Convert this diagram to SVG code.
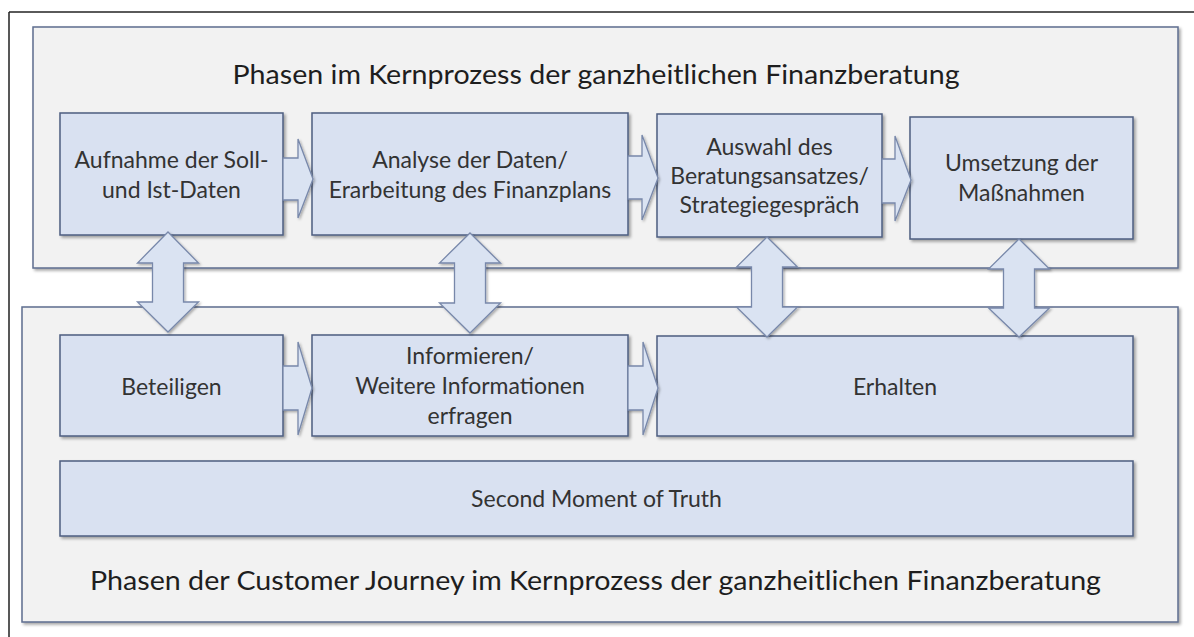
<svg xmlns="http://www.w3.org/2000/svg" width="1194" height="637" viewBox="0 0 1194 637">
  <defs>
    <filter id="shadow" x="-5%" y="-5%" width="112%" height="120%">
      <feDropShadow dx="2" dy="2" stdDeviation="1.5" flood-color="#000" flood-opacity="0.35"/>
    </filter>
    <filter id="soft" x="-10%" y="-10%" width="130%" height="130%">
      <feDropShadow dx="1.5" dy="1.5" stdDeviation="1.2" flood-color="#000" flood-opacity="0.3"/>
    </filter>
  </defs>
  <style>
    .frame { fill: none; }
    .panel { fill: #f2f2f2; stroke: #5d6d8e; stroke-width: 1.5; filter: url(#shadow); }
    .box { fill: #d9e1f1; stroke: #4d5d80; stroke-width: 1.5; filter: url(#shadow); }
    .arrow { fill: #dae3f2; stroke: #7888aa; stroke-width: 1.3; stroke-linejoin: miter; filter: url(#soft); }
    .title { font-family: Lato, "Liberation Sans", sans-serif; font-size: 27.5px; fill: #1e1e1e; text-anchor: middle; }
    .label { font-family: Lato, "Liberation Sans", sans-serif; font-size: 23px; fill: #333333; text-anchor: middle; }
  </style>

  <rect width="1194" height="637" fill="#ffffff"/>

  <!-- surrounding frame (top and left edges) -->
  <g id="frame">
    <line x1="9" y1="12" x2="1194" y2="12" stroke="#5a5a5a" stroke-width="2.2"/>
    <line x1="9" y1="12" x2="9" y2="637" stroke="#202020" stroke-width="1.5"/>
  </g>

  <!-- phase panels -->
  <g id="panel-kernprozess">
    <rect class="panel" x="33" y="27" width="1145" height="241"/>
    <text class="title" x="596" y="84" textLength="727" lengthAdjust="spacingAndGlyphs">Phasen im Kernprozess der ganzheitlichen Finanzberatung</text>
  </g>
  <g id="panel-customer-journey">
    <rect class="panel" x="22" y="307" width="1156" height="315"/>
    <text class="title" x="595.5" y="590" textLength="1011" lengthAdjust="spacingAndGlyphs">Phasen der Customer Journey im Kernprozess der ganzheitlichen Finanzberatung</text>
  </g>

  <!-- process steps -->
  <g id="aufnahme">
    <rect class="box" x="60" y="113" width="223" height="122"/>
    <text class="label" x="171.5" y="168">Aufnahme der Soll-</text>
    <text class="label" x="171.5" y="198">und Ist-Daten</text>
  </g>
  <g id="analyse">
    <rect class="box" x="312" y="113" width="316" height="122"/>
    <text class="label" x="470" y="168">Analyse der Daten/</text>
    <text class="label" x="470" y="198">Erarbeitung des Finanzplans</text>
  </g>
  <g id="auswahl">
    <rect class="box" x="657" y="114" width="225" height="123"/>
    <text class="label" x="769.5" y="155">Auswahl des</text>
    <text class="label" x="769.5" y="184">Beratungsansatzes/</text>
    <text class="label" x="769.5" y="213">Strategiegespräch</text>
  </g>
  <g id="umsetzung">
    <rect class="box" x="910" y="117" width="223" height="122"/>
    <text class="label" x="1021.5" y="171">Umsetzung der</text>
    <text class="label" x="1021.5" y="201">Maßnahmen</text>
  </g>

  <!-- customer journey steps -->
  <g id="beteiligen">
    <rect class="box" x="60" y="335" width="223" height="101"/>
    <text class="label" x="171.5" y="395">Beteiligen</text>
  </g>
  <g id="informieren">
    <rect class="box" x="312" y="335" width="316" height="101"/>
    <text class="label" x="470" y="364">Informieren/</text>
    <text class="label" x="470" y="394">Weitere Informationen</text>
    <text class="label" x="470" y="424">erfragen</text>
  </g>
  <g id="erhalten">
    <rect class="box" x="657" y="336" width="476" height="100"/>
    <text class="label" x="895" y="395">Erhalten</text>
  </g>
  <g id="second-moment">
    <rect class="box" x="60" y="461" width="1073" height="75"/>
    <text class="label" x="596.5" y="507">Second Moment of Truth</text>
  </g>

  <!-- block arrows -->
  <g id="connectors">
    <!-- upper row, left to right -->
    <polygon class="arrow" points="283,158 298,158 298,139 313,179 298,218 298,200 283,200"/>
    <polygon class="arrow" points="628,156 642,156 642,135 658,178 642,220 642,199 628,199"/>
    <polygon class="arrow" points="882,159 895,159 895,136 911,180 895,221 895,203 882,203"/>
    <!-- lower row, left to right -->
    <polygon class="arrow" points="283,366 298,366 298,342 312,388 298,435 298,410 283,410"/>
    <polygon class="arrow" points="628,366 643,366 643,342 658,388 643,435 643,410 628,410"/>
    <!-- vertical double arrows between the panels -->
    <polygon class="arrow" points="168,232 198.5,263 183.5,263 183.5,302 198.5,302 168,332 137.5,302 152.5,302 152.5,263 137.5,263"/>
    <polygon class="arrow" points="470,233 500.5,263 485.5,263 485.5,303 500.5,303 470,333 439.5,303 454.5,303 454.5,263 439.5,263"/>
    <polygon class="arrow" points="767,237 797.5,267 782.5,267 782.5,307 797.5,307 767,337 736.5,307 751.5,307 751.5,267 736.5,267"/>
    <polygon class="arrow" points="1019,239 1049.5,269 1034.5,269 1034.5,308 1049.5,308 1019,337 988.5,308 1003.5,308 1003.5,269 988.5,269"/>
  </g>
</svg>
